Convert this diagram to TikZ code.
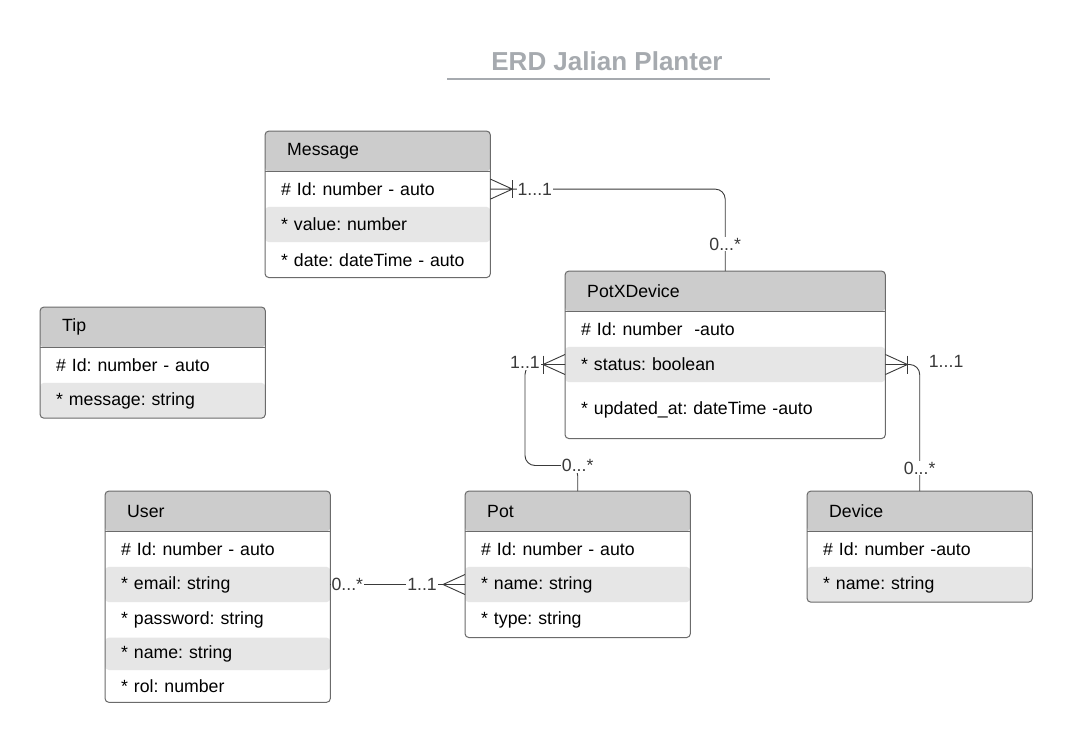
\documentclass[tikz,border=0pt]{standalone}
\usepackage{fontspec}
\setmainfont{Liberation Sans}
\frenchspacing
\usetikzlibrary{positioning}
\usetikzlibrary{calc}
\usetikzlibrary{fit}
\definecolor{boxline}{HTML}{6B6B6B}
\definecolor{headfill}{HTML}{CCCCCC}
\definecolor{rowfill}{HTML}{E6E6E6}
\definecolor{linkline}{HTML}{3A3A3A}
\definecolor{titlegray}{HTML}{A6AAAF}
\tikzset{
    % Text of the entity boxes
    entity text/.style={font=\fontsize{17.7}{21}\selectfont, anchor=north west,
        inner ysep=0, align=left},
    head/.style={entity text, inner xsep=22pt, minimum height=40pt, text width=181pt},
    field/.style={entity text, inner xsep=16pt, minimum height=35pt, text width=193pt},
%
    % The outline round a whole entity, filled behind its rows
    entity/.style={draw=boxline, fill=white, line width=1pt, rounded corners=4pt,
        inner sep=0},
%
    % Relationship lines and their cardinalities
    link/.style={draw=linkline, line width=0.9pt},
    card/.style={font=\fontsize{17.7}{21}\selectfont, fill=white, inner sep=1pt,
        text=linkline},
    crow/.pic={\draw[link] (0,-10) -- (22,0) -- (0,10) (0,0) -- (22,0);},
    one bar/.pic={\draw[link] (0,-9) -- (0,9);}}
\pgfdeclarelayer{background}
\pgfsetlayers{background,main}

\begin{document}
\begin{tikzpicture}[x=1pt, y=-1pt]
\useasboundingbox (0,0) rectangle (1072,740);

\node [font=\fontsize{26}{30}\selectfont\bfseries, text=titlegray]
    (title) at (607,61) {ERD Jalian Planter};
\draw [titlegray, line width=2pt] (447,79) -- (770,79);

% Message
\node [head] (msg) at (265,131) {Message};
\node [field] (msg id) at (msg.south west) {\# Id: number - auto};
\node [field] (msg value) at (msg id.south west) {* value: number};
\node [field] (msg date) at (msg value.south west) {* date: dateTime - auto};

% Tip
\node [head] (tip) at (40,307) {Tip};
\node [field] (tip id) at (tip.south west) {\# Id: number - auto};
\node [field] (tip message) at (tip id.south west) {* message: string};

% PotXDevice
\node [head, text width=276pt] (pxd) at (565,271) {PotXDevice};
\node [field, text width=288pt] (pxd id) at (pxd.south west) {\# Id: number~~-auto};
\node [field, text width=288pt] (pxd status) at (pxd id.south west) {* status: boolean};
\node [field, text width=288pt, minimum height=56pt]
    (pxd updated) at (pxd status.south west) {* updated\_at: dateTime -auto};

% User
\node [head] (user) at (105,491) {User};
\node [field] (user id) at (user.south west) {\# Id: number - auto};
\node [field] (user email) at (user id.south west) {* email: string};
\node [field] (user password) at (user email.south west) {* password: string};
\node [field, minimum height=32pt] (user name) at (user password.south west) {* name: string};
\node [field, minimum height=32pt] (user rol) at (user name.south west) {* rol: number};

% Pot
\node [head] (pot) at (465,491) {Pot};
\node [field] (pot id) at (pot.south west) {\# Id: number - auto};
\node [field] (pot name) at (pot id.south west) {* name: string};
\node [field] (pot type) at (pot name.south west) {* type: string};

% Device
\node [head] (dev) at (807,491) {Device};
\node [field] (dev id) at (dev.south west) {\# Id: number -auto};
\node [field] (dev name) at (dev id.south west) {* name: string};

\begin{pgfonlayer}{background}
\path [fill=white] (0,0) rectangle (1072,740);
\node [entity, fit=(msg)(msg date), path picture={
    \fill [headfill] (msg.north west) rectangle (msg.south east);
    \fill [rowfill] (msg value.north west) rectangle (msg value.south east);}]
    (msg box) {};
\node [entity, fit=(tip)(tip message), path picture={
    \fill [headfill] (tip.north west) rectangle (tip.south east);
    \fill [rowfill] (tip message.north west) rectangle (tip message.south east);}]
    (tip box) {};
\node [entity, fit=(pxd)(pxd updated), path picture={
    \fill [headfill] (pxd.north west) rectangle (pxd.south east);
    \fill [rowfill] (pxd status.north west) rectangle (pxd status.south east);}]
    (pxd box) {};
\node [entity, fit=(user)(user rol), path picture={
    \fill [headfill] (user.north west) rectangle (user.south east);
    \fill [rowfill] (user email.north west) rectangle (user email.south east);
    \fill [rowfill] (user name.north west) rectangle (user name.south east);}]
    (user box) {};
\node [entity, fit=(pot)(pot type), path picture={
    \fill [headfill] (pot.north west) rectangle (pot.south east);
    \fill [rowfill] (pot name.north west) rectangle (pot name.south east);}]
    (pot box) {};
\node [entity, fit=(dev)(dev name), path picture={
    \fill [headfill] (dev.north west) rectangle (dev.south east);
    \fill [rowfill] (dev name.north west) rectangle (dev name.south east);}]
    (dev box) {};
\end{pgfonlayer}

% header rules
\foreach \e in {msg, tip, pxd, user, pot, dev}
    \draw [boxline, line width=1pt] (\e.south west) -- (\e.south east);

% Message -- PotXDevice
\coordinate (m1) at ($(msg id.east)+(22,0)$);
\pic at (msg id.east) {crow};
\pic at (m1) {one bar};
\draw [link, rounded corners=10pt] (m1) -| (pxd.north);
\node [card, anchor=west] (m1 card) at ($(m1)+(4,0)$) {1...1};
\node [card] (msg card) at ($(pxd.north)+(0,-27)$) {0...*};

% PotXDevice -- Pot
\coordinate (s1) at ($(pxd status.west)+(-22,0)$);
\pic [rotate=180] at (pxd status.west) {crow};
\pic at (s1) {one bar};
\coordinate (pot bend) at ($(s1)+(-18,101)$);
\draw [link, rounded corners=10pt] (pot.north) |- (pot bend) |- (s1);
\node [card] (s1 card) at ($(pot bend |- s1)+(0,-2)$) {1..1};
\node [card] (pot card) at (pot.north |- pot bend) {0...*};

% PotXDevice -- Device
\coordinate (s2) at ($(pxd status.east)+(22,0)$);
\pic at (pxd status.east) {crow};
\pic at (s2) {one bar};
\draw [link, rounded corners=10pt] (s2) -| (dev.north);
\node [card, anchor=west] (s2 card) at ($(dev.north |- s2)+(8,-3)$) {1...1};
\node [card] (dev card) at ($(dev.north)+(0,-23)$) {0...*};

% User -- Pot
\coordinate (c4) at ($(pot name.west)+(-22,0)$);
\pic [rotate=180] at (pot name.west) {crow};
\draw [link] (user email.east) -- (c4);
\node [card, anchor=west] (user card) at (user email.east) {0...*};
\node [card, anchor=east] (c4 card) at ($(c4)+(-5,0)$) {1..1};

\end{tikzpicture}
\end{document}
